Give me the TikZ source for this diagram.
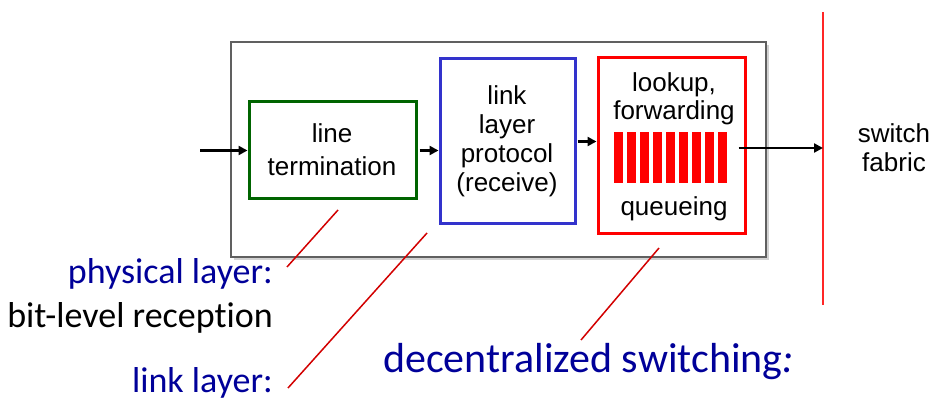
\documentclass[tikz,border=0pt]{standalone}
\usepackage{fontspec}
\setmainfont{Liberation Sans}
\newfontfamily\calib[Ligatures={NoCommon}]{Carlito}
\usetikzlibrary{arrows.meta,shadows}
\definecolor{dkgreen}{RGB}{0,100,0}
\definecolor{boxblue}{RGB}{51,51,204}
\definecolor{txtblue}{RGB}{0,0,153}
\definecolor{outergray}{RGB}{96,96,96}
\definecolor{ptrred}{RGB}{210,0,0}
\begin{document}
\begin{tikzpicture}[x=1pt,y=-1pt,
  box/.style={draw, line width=3pt, fill=white, inner sep=0pt},
  lbl/.style={align=center, inner sep=0pt, font=\fontsize{26}{29}\selectfont},
  side/.style={inner sep=0pt, font=\calib\fontsize{36}{40}\selectfont},
  flow/.style={line width=2.8pt, -{Triangle[length=9pt,width=9pt]}},
  ptr/.style={draw=ptrred, line width=1.5pt}
]
\useasboundingbox (0,0) rectangle (946,414);

% outer box
\node[box, draw=outergray, line width=2.6pt, minimum width=535pt, minimum height=215pt,
      drop shadow={shadow xshift=3pt, shadow yshift=-3pt, fill=black!35}] (outer) at (498.5,149.5) {};

% inner boxes
\node[box, draw=dkgreen, minimum width=167pt, minimum height=97pt] (green) at (332.5,150.5) {};
\node[box, draw=boxblue, minimum width=135pt, minimum height=165pt] (blue) at (507.5,141.5) {};
\node[box, draw=red, minimum width=147pt, minimum height=176pt] (redbox) at (671.5,146) {};

% texts in boxes (base anchor = baseline of last line)
\node[lbl, anchor=base, font=\fontsize{26}{33}\selectfont] (greentxt) at (332,176) {line\\termination};
\node[lbl, anchor=base] (bluetxt) at (507,192) {link\\layer\\protocol\\(receive)};
\node[lbl, anchor=base, font=\fontsize{26}{28}\selectfont] (lookup) at (674,120) {lookup,\\forwarding};
\node[lbl, anchor=base] (queue) at (674,216) {queueing};

% queue bars
\foreach \i in {0,...,8} {
  \fill[red] ({614+\i*13},132) rectangle ({614+\i*13+8.7},183);
}

% switch fabric
\coordinate (fabtop) at (823,12);
\coordinate (fabbot) at (823,305);
\draw[red!85!white, line width=1.5pt] (fabtop) -- (fabbot);
\node[lbl, anchor=base] (fabric) at (894,172) {switch\\fabric};

% flow arrows
\coordinate (in) at (200,150.5);
\draw[flow] (in) -- (green.west);
\draw[flow] ([xshift=2pt]green.east) -- (green.east -| blue.west);
\draw[flow] ([xshift=1pt]blue.east) -- (blue.east -| redbox.west);
\draw[flow] ([xshift=-8pt,yshift=-2pt]redbox.east) -- ([yshift=-2pt]redbox.east -| fabtop);

% side labels
\node[side, anchor=base east, text=txtblue] (phys) at (273,284) {physical layer:};
\node[side, anchor=base east] (bitlvl) at (273,327) {bit-level reception};
\node[side, anchor=base east, text=txtblue] (linkl) at (273,392) {link layer:};
\node[inner sep=0pt, anchor=base west, text=txtblue, font=\calib\fontsize{42}{46}\selectfont] (decent) at (383,372) {decentralized switching\textit{:}};

% pointer lines
\coordinate (p1a) at (338,210);
\coordinate (p1b) at (287,267);
\coordinate (p2a) at (427,233);
\coordinate (p2b) at (288,388);
\coordinate (p3a) at (659,248);
\coordinate (p3b) at (581,340);
\draw[ptr] (p1a) -- (p1b);
\draw[ptr] (p2a) -- (p2b);
\draw[ptr] (p3a) -- (p3b);
\end{tikzpicture}
\end{document}
